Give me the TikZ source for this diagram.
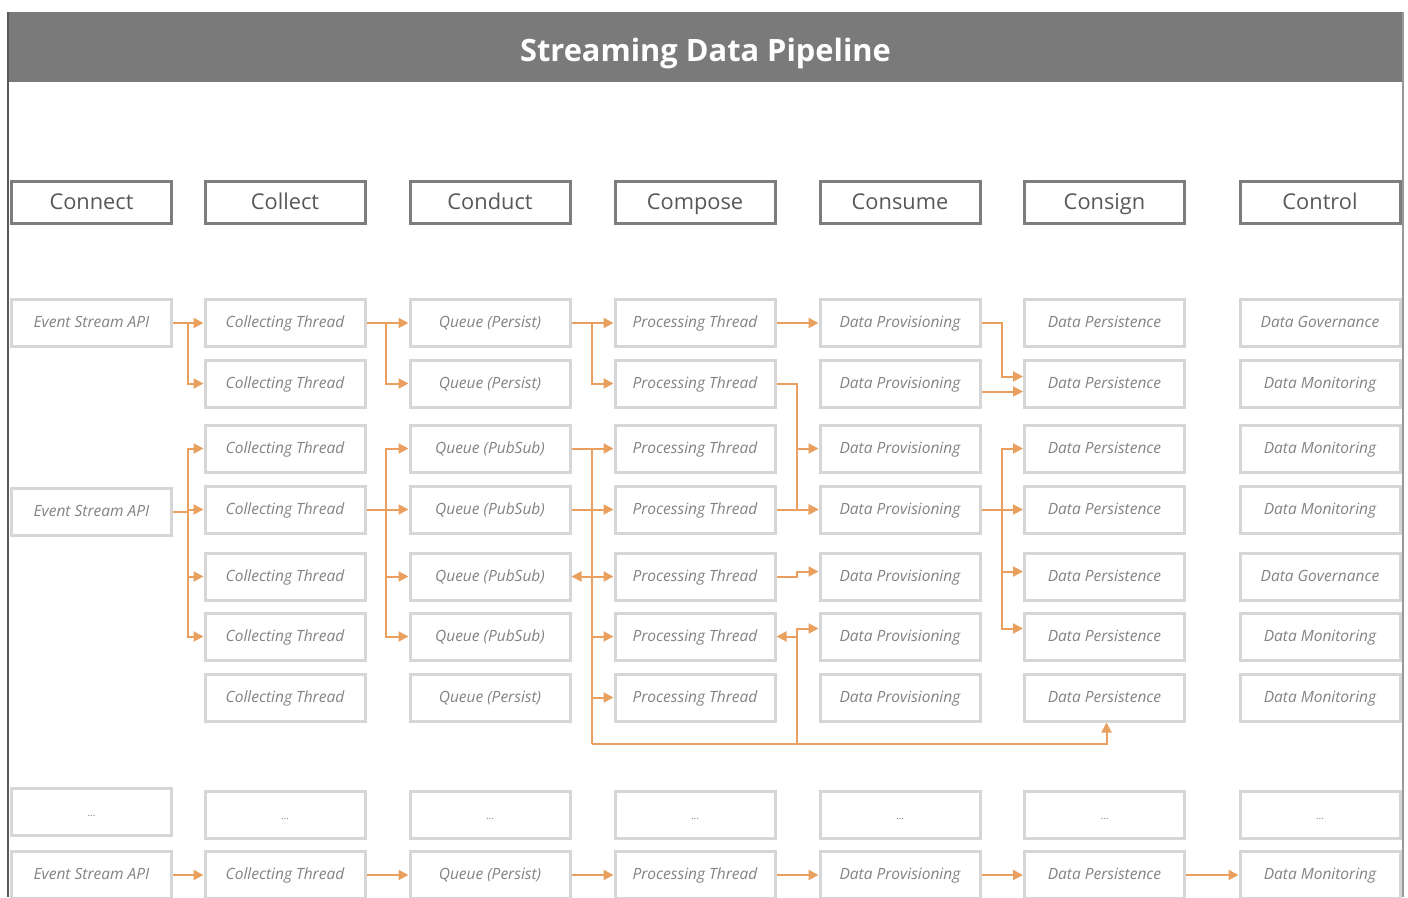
\documentclass[tikz,border=0pt]{standalone}
\usepackage{fontspec}
\setmainfont{Open Sans}
\usepackage{tikz}
\usetikzlibrary{arrows.meta}
\definecolor{barGray}{RGB}{122,122,122}
\definecolor{headLine}{RGB}{125,125,125}
\definecolor{headText}{RGB}{88,88,88}
\definecolor{cellLine}{RGB}{214,214,214}
\definecolor{cellText}{RGB}{130,130,130}
\definecolor{flowOrange}{RGB}{233,160,94}
\tikzset{
  cell/.style={draw=cellLine, line width=3pt, minimum width=160pt, minimum height=47pt, inner sep=0pt,
    text height=13pt, text depth=3.5pt, text=cellText, font=\fontsize{15.5}{17}\selectfont\itshape},
  dots/.style={cell, font=\fontsize{10}{12}\selectfont},
  head/.style={draw=headLine, line width=3pt, minimum width=160pt, minimum height=42pt, inner sep=0pt,
    text height=18.5pt, text depth=5pt, text=headText, font=\fontsize{21.8}{25}\selectfont},
  flow/.style={draw=flowOrange, line width=2pt, -{Triangle[length=10pt,width=10pt]}},
  link/.style={draw=flowOrange, line width=2pt}
}
\newcommand{\cellbox}[4]{ \node[cell] (#1) at (#2, #3) {#4};}
\newcommand{\dotbox}[3]{ \node[dots] (#1) at (#2, #3) {...};}
\newcommand{\headbox}[3]{ \node[head] (#1) at (#2, 202.5) {#3};}

\begin{document}
\begin{tikzpicture}[x=1pt, y=-1pt]
\useasboundingbox (0,0) rectangle (1408,897);
% frame and title
\fill[barGray] (8,12) rectangle (1403,82);
\draw[line width=1.5pt, black!65] (8,12) -- (8,897);
\draw[line width=1.5pt, black!40] (1403,12) -- (1403,897);
\node[font=\fontsize{30.8}{34}\selectfont\bfseries, text=white] (title) at (705.5,53) {Streaming Data Pipeline};

% stages
\headbox{hconnect}{91.5}{Connect}
\headbox{hcollect}{285}{Collect}
\headbox{hconduct}{490}{Conduct}
\headbox{hcompose}{695}{Compose}
\headbox{hconsume}{900}{Consume}
\headbox{hconsign}{1104.5}{Consign}
\headbox{hcontrol}{1320}{Control}

% connect
\cellbox{esa1}{91.5}{323}{Event Stream API}
\cellbox{esa2}{91.5}{511.5}{Event Stream API}
\dotbox{dots1}{91.5}{812}
\cellbox{esa3}{91.5}{875}{Event Stream API}
% collect
\cellbox{ct1}{285}{323}{Collecting Thread}
\cellbox{ct2}{285}{383.5}{Collecting Thread}
\cellbox{ct3}{285}{448.5}{Collecting Thread}
\cellbox{ct4}{285}{509.5}{Collecting Thread}
\cellbox{ct5}{285}{576.5}{Collecting Thread}
\cellbox{ct6}{285}{636.5}{Collecting Thread}
\cellbox{ct7}{285}{697.5}{Collecting Thread}
\dotbox{dots2}{285}{815}
\cellbox{ct8}{285}{875}{Collecting Thread}
% conduct
\cellbox{q1}{490}{323}{Queue (Persist)}
\cellbox{q2}{490}{383.5}{Queue (Persist)}
\cellbox{q3}{490}{448.5}{Queue (PubSub)}
\cellbox{q4}{490}{509.5}{Queue (PubSub)}
\cellbox{q5}{490}{576.5}{Queue (PubSub)}
\cellbox{q6}{490}{636.5}{Queue (PubSub)}
\cellbox{q7}{490}{697.5}{Queue (Persist)}
\dotbox{dots3}{490}{815}
\cellbox{q8}{490}{875}{Queue (Persist)}
% compose
\cellbox{pt1}{695}{323}{Processing Thread}
\cellbox{pt2}{695}{383.5}{Processing Thread}
\cellbox{pt3}{695}{448.5}{Processing Thread}
\cellbox{pt4}{695}{509.5}{Processing Thread}
\cellbox{pt5}{695}{576.5}{Processing Thread}
\cellbox{pt6}{695}{636.5}{Processing Thread}
\cellbox{pt7}{695}{697.5}{Processing Thread}
\dotbox{dots4}{695}{815}
\cellbox{pt8}{695}{875}{Processing Thread}
% consume
\cellbox{dp1}{900}{323}{Data Provisioning}
\cellbox{dp2}{900}{383.5}{Data Provisioning}
\cellbox{dp3}{900}{448.5}{Data Provisioning}
\cellbox{dp4}{900}{509.5}{Data Provisioning}
\cellbox{dp5}{900}{576.5}{Data Provisioning}
\cellbox{dp6}{900}{636.5}{Data Provisioning}
\cellbox{dp7}{900}{697.5}{Data Provisioning}
\dotbox{dots5}{900}{815}
\cellbox{dp8}{900}{875}{Data Provisioning}
% consign
\cellbox{ps1}{1104.5}{323}{Data Persistence}
\cellbox{ps2}{1104.5}{383.5}{Data Persistence}
\cellbox{ps3}{1104.5}{448.5}{Data Persistence}
\cellbox{ps4}{1104.5}{509.5}{Data Persistence}
\cellbox{ps5}{1104.5}{576.5}{Data Persistence}
\cellbox{ps6}{1104.5}{636.5}{Data Persistence}
\cellbox{ps7}{1104.5}{697.5}{Data Persistence}
\dotbox{dots6}{1104.5}{815}
\cellbox{ps8}{1104.5}{875}{Data Persistence}
% control
\cellbox{ctl1}{1320}{323}{Data Governance}
\cellbox{ctl2}{1320}{383.5}{Data Monitoring}
\cellbox{ctl3}{1320}{448.5}{Data Monitoring}
\cellbox{ctl4}{1320}{509.5}{Data Monitoring}
\cellbox{ctl5}{1320}{576.5}{Data Governance}
\cellbox{ctl6}{1320}{636.5}{Data Monitoring}
\cellbox{ctl7}{1320}{697.5}{Data Monitoring}
\dotbox{dots7}{1320}{815}
\cellbox{ctl8}{1320}{875}{Data Monitoring}

% connect -> collect
\draw[flow] (esa1.east) -- (ct1.west);
\draw[flow] (esa1.east) -- ++(15,0) |- (ct2.west);
\draw[flow] (esa2.east) -- ++(15,0) |- (ct3.west);
\draw[flow] (esa2.east) -- ++(15,0) |- (ct4.west);
\draw[flow] (esa2.east) -- ++(15,0) |- (ct5.west);
\draw[flow] (esa2.east) -- ++(15,0) |- (ct6.west);
% collect -> conduct
\draw[flow] (ct1.east) -- (q1.west);
\draw[flow] (ct1.east) -- ++(19,0) |- (q2.west);
\draw[flow] (ct4.east) -- ++(19,0) |- (q3.west);
\draw[flow] (ct4.east) -- ++(19,0) |- (q4.west);
\draw[flow] (ct4.east) -- ++(19,0) |- (q5.west);
\draw[flow] (ct4.east) -- ++(19,0) |- (q6.west);
% conduct -> compose
\coordinate (qbus) at (592,744);
\coordinate (pbus) at (797,744);
\draw[flow] (q1.east) -- (pt1.west);
\draw[flow] (q1.east) -- ++(20,0) |- (pt2.west);
\draw[link] (q3.east) -| (qbus);
\draw[link] (q4.east) -- (q4.east -| qbus);
\draw[flow] (qbus) |- (pt3.west);
\draw[flow] (qbus) |- (pt4.west);
\draw[flow] (qbus) |- (pt5.west);
\draw[flow] (qbus) |- (pt6.west);
\draw[flow] (qbus) |- (pt7.west);
\draw[flow] (qbus) |- (q5.east);
\draw[flow] (qbus) -| ([xshift=2pt]ps7.south);
% compose -> consume
\draw[flow] (pt1.east) -- (dp1.west);
\draw[flow] (pt2.east) -- ++(20,0) |- (dp3.west);
\draw[flow] (pt2.east) -- ++(20,0) |- (dp4.west);
\draw[flow] (pt4.east) -- (dp4.west);
\draw[flow] (pt5.east) -- ++(20,0) |- ([yshift=5pt]dp5.west);
\draw[flow] (pbus) |- (pt6.east);
\draw[flow] (pbus) |- ([yshift=8pt]dp6.west);
% consume -> consign
\draw[flow] (dp1.east) -- ++(20,0) |- ([yshift=7pt]ps2.west);
\draw[flow] ([yshift=-8pt]dp2.east) -- ([yshift=-8pt]ps2.west);
\draw[flow] (dp4.east) -- ++(20,0) |- (ps3.west);
\draw[flow] (dp4.east) -- ++(20,0) |- (ps4.west);
\draw[flow] (dp4.east) -- ++(20,0) |- ([yshift=5pt]ps5.west);
\draw[flow] (dp4.east) -- ++(20,0) |- ([yshift=8pt]ps6.west);
% bottom row
\draw[flow] (esa3.east) -- (ct8.west);
\draw[flow] (ct8.east) -- (q8.west);
\draw[flow] (q8.east) -- (pt8.west);
\draw[flow] (pt8.east) -- (dp8.west);
\draw[flow] (dp8.east) -- (ps8.west);
\draw[flow] (ps8.east) -- (ctl8.west);

\end{tikzpicture}
\end{document}
